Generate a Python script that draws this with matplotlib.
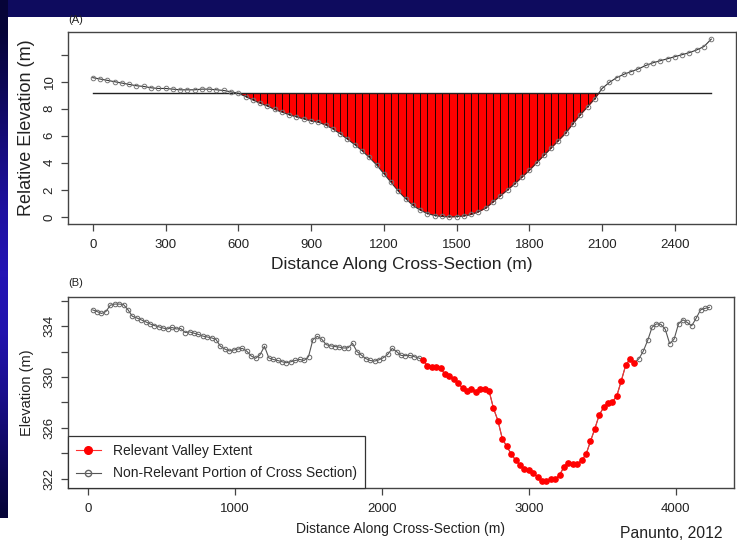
import numpy as np
import matplotlib
matplotlib.use('Agg')
import matplotlib.pyplot as plt
from matplotlib.lines import Line2D
from matplotlib.patches import Rectangle

plt.rcParams['font.family'] = ['Liberation Sans', 'DejaVu Sans']

# (A) relative elevation, sampled every 30 m
dist_a = np.arange(0, 2551, 30)
rel_elev_a = np.array([
    10.3, 10.2, 10.1, 10.0, 9.9, 9.8, 9.7, 9.65, 9.55, 9.5,
    9.5, 9.45, 9.4, 9.4, 9.4, 9.45, 9.45, 9.4, 9.35, 9.25, 9.15,
    8.9, 8.65, 8.4, 8.2, 7.95, 7.75, 7.55, 7.4, 7.25, 7.1,
    7.0, 6.8, 6.5, 6.15, 5.75, 5.35, 4.9, 4.4, 3.85, 3.2,
    2.55, 1.9, 1.35, 0.85, 0.5, 0.25, 0.1, 0.03, 0.0, 0.02,
    0.07, 0.18, 0.38, 0.65, 1.1, 1.55, 2.0, 2.45, 2.95, 3.45,
    4.0, 4.55, 5.1, 5.65, 6.2, 6.9, 7.55, 8.15, 8.75,
    9.5, 9.95, 10.3, 10.55, 10.75, 10.95, 11.2, 11.4, 11.55, 11.7,
    11.85, 12.0, 12.15, 12.35, 12.6, 13.15,
])
level_a = 9.2

# (B) elevation along the cross-section, sampled every 30 m
dist_b = np.arange(30, 4231, 30)
elev_b = np.array([
    335.28, 335.15, 335.0, 335.15, 335.65, 335.74, 335.74, 335.7, 335.3, 334.78,
    334.65, 334.5, 334.35, 334.18, 334.05, 333.95, 333.85, 333.78, 333.9, 333.78,
    333.82, 333.5, 333.55, 333.45, 333.35, 333.22, 333.15, 333.08, 332.95, 332.42,
    332.2, 332.05, 332.12, 332.2, 332.25, 332.03, 331.65, 331.47, 331.75, 332.42,
    331.5, 331.38, 331.3, 331.2, 331.12, 331.2, 331.3, 331.38, 331.3, 331.6,
    332.94, 333.2, 332.98, 332.55, 332.45, 332.4, 332.35, 332.28, 332.3, 332.65,
    332.0, 331.72, 331.45, 331.3, 331.25, 331.35, 331.52, 331.78, 332.25, 332.0,
    331.7, 331.68, 331.7, 331.6, 331.5, 331.33, 330.88, 330.8, 330.8, 330.68,
    330.2, 330.08, 329.82, 329.52, 329.1, 328.92, 329.08, 328.85, 329.03, 329.08,
    328.9, 327.53, 326.57, 325.14, 324.54, 323.97, 323.45, 323.06, 322.75, 322.67,
    322.42, 322.15, 321.85, 321.82, 321.97, 321.97, 322.28, 322.93, 323.27, 323.14,
    323.14, 323.45, 323.9, 324.93, 325.92, 327.01, 327.61, 327.95, 328.05, 328.52,
    329.69, 330.91, 331.43, 331.12, 331.43, 332.03, 332.88, 333.92, 334.18, 334.15,
    333.75, 332.62, 332.98, 334.18, 334.5, 334.29, 334.03, 334.62, 335.28, 335.4,
    335.48,
])
valley_start, valley_end = 2280, 3720

W, H = 737, 545
fig = plt.figure(figsize=(W / 100, H / 100), dpi=100, facecolor='#0e0b5e')

# slide background: white panel, blue gradient strip on the left
fig.patches.append(Rectangle((8 / W, 0), 1, 1 - 17 / H, transform=fig.transFigure,
                             facecolor='white', edgecolor='none', zorder=-5))
strip = fig.add_axes([0, 0, 8 / W, 1], zorder=-3)
grad = np.array([0.05, 0.3, 0.6, 0.85, 1.0, 0.95, 0.7, 0.35, 0.05]).reshape(-1, 1)
strip.imshow(grad, aspect='auto', interpolation='bilinear',
             cmap=matplotlib.colors.LinearSegmentedColormap.from_list(
                 'slide', ['#060438', '#2414b4']), extent=(0, 1, 0, 1))
strip.axis('off')
fig.patches.append(Rectangle((0, 0), 8 / W, 27 / H, transform=fig.transFigure,
                             facecolor='white', edgecolor='none', zorder=-2))

frame = '#444444'
txt = '#222222'


def style(ax):
    for s in ax.spines.values():
        s.set_color(frame)
        s.set_linewidth(1.0)
    ax.tick_params(colors=frame, labelcolor=txt, length=5, width=0.9)
    ax.margins(x=0.04, y=0.04)


# ---- panel A
ax1 = fig.add_axes([68 / W, 1 - 224 / H, 668 / W, 192 / H])
ax1.fill_between(dist_a, rel_elev_a, level_a, where=rel_elev_a <= level_a,
                 interpolate=True, color='#ff0000', lw=0)
below = rel_elev_a < level_a
ax1.vlines(dist_a[below], rel_elev_a[below], level_a, color='black', lw=0.6)
ax1.plot([dist_a[0], dist_a[-1]], [level_a, level_a], color='#222222', lw=1.0)
ax1.plot(dist_a, rel_elev_a, color='#333333', lw=0.8, marker='o', ms=3.3,
         mfc='none', mec='#777777', mew=0.7)
style(ax1)
ax1.set_xticks(range(0, 2401, 300))
ax1.set_yticks(range(0, 13, 2))
ax1.set_yticklabels(['0', '2', '4', '6', '8', '10', ''])
ax1.tick_params(axis='x', labelsize=9.5, pad=6)
ax1.tick_params(axis='y', labelsize=9.5, labelrotation=90, pad=4)
for lab in ax1.get_yticklabels():
    lab.set_va('center')
ax1.set_xlabel('Distance Along Cross-Section (m)', fontsize=12.5, color=txt, labelpad=4)
ax1.set_ylabel('Relative Elevation (m)', fontsize=13, color=txt, labelpad=6)
fig.text(68 / W, 1 - 20 / H, '(A)', fontsize=8, color=txt, va='center')

# ---- panel B
ax2 = fig.add_axes([68 / W, 1 - 488 / H, 666 / W, 191 / H])
valley = (dist_b >= valley_start) & (dist_b <= valley_end)
ax2.plot(dist_b, elev_b, color='#555555', lw=0.8)
ax2.plot(dist_b[~valley], elev_b[~valley], ls='none', marker='o', ms=3.3,
         mfc='none', mec='#666666', mew=0.7)
ax2.plot(dist_b[valley], elev_b[valley], color='#ff3030', lw=0.8, marker='o',
         ms=3.8, mfc='#ff0000', mec='#ff0000')
style(ax2)
ax2.set_xticks(range(0, 4001, 1000))
ax2.set_yticks(range(322, 337, 2))
ax2.set_yticklabels(['322', '', '326', '', '330', '', '334', ''])
ax2.tick_params(axis='x', labelsize=9.5, pad=6)
ax2.tick_params(axis='y', labelsize=9.5, labelrotation=90, pad=4)
for lab in ax2.get_yticklabels():
    lab.set_va('center')
ax2.set_xlabel('Distance Along Cross-Section (m)', fontsize=10, color=txt, labelpad=5)
ax2.set_ylabel('Elevation (m)', fontsize=10.5, color=txt, labelpad=7)
fig.text(68 / W, 1 - 283 / H, '(B)', fontsize=8, color=txt, va='center')

handles = [
    Line2D([], [], color='#ff3030', lw=0.8, marker='o', ms=5.5, mfc='#ff0000', mec='#ff0000'),
    Line2D([], [], color='#555555', lw=0.8, marker='o', ms=4.5, mfc='none', mec='#666666'),
]
leg = ax2.legend(handles, ['Relevant Valley Extent', 'Non-Relevant Portion of Cross Section)'],
                 loc='lower left', bbox_to_anchor=(0, 0), borderaxespad=0, fancybox=False,
                 framealpha=1, edgecolor='#333333', fontsize=10, handlelength=1.8,
                 borderpad=0.55, labelspacing=0.6, handletextpad=0.9)
leg.get_frame().set_linewidth(0.9)
for t in leg.get_texts():
    t.set_color(txt)

fig.text(722 / W, 1 - 533 / H, 'Panunto, 2012', fontsize=11.3, color=txt,
         ha='right', va='center')

fig.savefig('out.png', dpi=100, facecolor=fig.get_facecolor())
